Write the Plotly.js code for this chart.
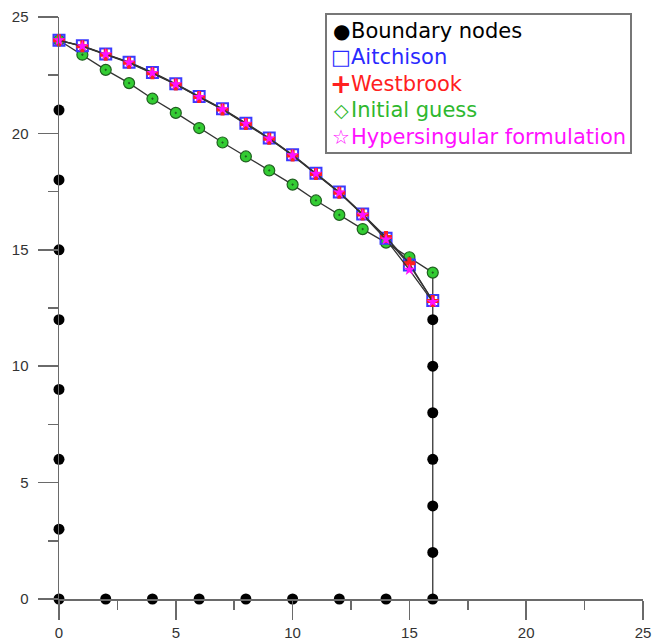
<!DOCTYPE html>
<html>
<head>
<meta charset="utf-8">
<script src="https://cdn.plot.ly/plotly-3.0.1.min.js"></script>
<style>html,body{margin:0;padding:0;background:#fff;}</style>
</head>
<body>
<div id="chart" style="width:652px;height:643px;"></div>
<script>
// ---- data ----
const nodeX = [0, 1, 2, 3, 4, 5, 6, 7, 8, 9, 10, 11, 12, 13, 14, 15, 16];
const aitchison = [24.0, 23.76, 23.41, 23.06, 22.62, 22.13, 21.59, 21.06, 20.44, 19.8, 19.08, 18.29, 17.48, 16.54, 15.5, 14.35, 12.82];
const westbrook = [24.0, 23.74, 23.38, 23.03, 22.58, 22.1, 21.56, 21.03, 20.4, 19.77, 19.05, 18.26, 17.45, 16.52, 15.55, 14.42, 12.8];
const hypersingular = [24.0, 23.75, 23.4, 23.05, 22.6, 22.11, 21.57, 21.04, 20.42, 19.78, 19.06, 18.27, 17.46, 16.5, 15.44, 14.14, 12.76];
const initialGuess = [24.0, 23.38, 22.73, 22.16, 21.49, 20.88, 20.23, 19.61, 19.01, 18.41, 17.8, 17.12, 16.5, 15.89, 15.31, 14.68, 14.02];
const boundaryX = [0, 0, 0, 0, 0, 0, 0, 0, 2, 4, 6, 8, 10, 12, 14, 16, 16, 16, 16, 16, 16, 16];
const boundaryY = [21, 18, 15, 12, 9, 6, 3, 0, 0, 0, 0, 0, 0, 0, 0, 0, 2, 4, 6, 8, 10, 12];
const legendLabels = ["Boundary nodes", "Aitchison", "Westbrook", "Initial guess", "Hypersingular formulation"];
const legendGlyphs = ["\u25CF", "\u25A1", "<b>+</b>", "\u25C7", "\u2606"];
const tickVals = [0, 5, 10, 15, 20, 25];

// ---- styling ----
const W = 652, H = 643;
const M = {l: 59, r: 9, t: 17, b: 44};
const PW = W - M.l - M.r, PH = H - M.t - M.b;
const px = v => (v - M.l) / PW;
const py = v => (H - M.b - v) / PH;
const legendColors = ["#000000", "#2a2aff", "#ff2020", "#2eb82e", "#ff10ff"];
const lineCol = "#333333";

const lastX = nodeX[nodeX.length - 1];
const rightEdgeTop = Math.max(initialGuess[initialGuess.length - 1], aitchison[aitchison.length - 1]);

const traces = [
  {x: [lastX, lastX], y: [0, rightEdgeTop], mode: "lines", line: {color: lineCol, width: 1.3},
   hoverinfo: "skip", showlegend: false, cliponaxis: false},
  {x: nodeX, y: initialGuess, name: "Initial guess", mode: "lines+markers", cliponaxis: false,
   line: {color: lineCol, width: 1.3},
   marker: {symbol: "circle-dot", size: 11, color: "#33cc33", line: {color: "#1f5f1f", width: 1.2}}},
  {x: nodeX, y: aitchison, name: "Aitchison", mode: "lines+markers", cliponaxis: false,
   line: {color: lineCol, width: 1.3},
   marker: {symbol: "square-open", size: 11, color: "#3a3aff", line: {width: 2}}},
  {x: nodeX, y: westbrook, name: "Westbrook", mode: "lines+markers", cliponaxis: false,
   line: {color: lineCol, width: 1.3},
   marker: {symbol: "cross", size: 10, color: "#ff2020", line: {width: 0}}},
  {x: nodeX, y: hypersingular, name: "Hypersingular formulation", mode: "lines+markers", cliponaxis: false,
   line: {color: lineCol, width: 1.3},
   marker: {symbol: "star", size: 9, color: "#ff10ff", line: {width: 0}}},
  {x: boundaryX, y: boundaryY, name: "Boundary nodes", mode: "markers", cliponaxis: false,
   marker: {symbol: "circle", size: 11, color: "#000000"}}
];

const tickFont = {family: "Liberation Sans, Arial, sans-serif", size: 15, color: "#333333"};
const axisCommon = {
  range: [0, 25], tickvals: tickVals, ticktext: tickVals.map(String),
  showgrid: false, zeroline: false, showline: true, linecolor: "#6a6a6a", linewidth: 1.5,
  ticks: "outside", tickcolor: "#6a6a6a", tickwidth: 1.5, tickfont: tickFont, fixedrange: true
};

const annotations = [];
const rowY = [30.5, 57, 83.5, 110, 136.5];
const glyphSizes = [20, 21, 26, 19, 20];
for (let i = 0; i < legendLabels.length; i++) {
  annotations.push({
    xref: "paper", yref: "paper", x: px(341), y: py(rowY[i]), xanchor: "center", yanchor: "middle",
    text: legendGlyphs[i], showarrow: false,
    font: {family: "DejaVu Sans, sans-serif", size: glyphSizes[i], color: legendColors[i]}
  });
  annotations.push({
    xref: "paper", yref: "paper", x: px(349), y: py(rowY[i]), xanchor: "left", yanchor: "middle",
    text: legendLabels[i], showarrow: false,
    font: {family: "DejaVu Sans, sans-serif", size: 21, color: legendColors[i]}
  });
}

const layout = {
  width: W, height: H, margin: M, paper_bgcolor: "#ffffff", plot_bgcolor: "#ffffff",
  showlegend: false,
  xaxis: Object.assign({}, axisCommon, {ticklen: 19, ticklabelstandoff: 0,
    minor: {dtick: 2.5, tick0: 0, ticks: "outside", ticklen: 9, tickcolor: "#6a6a6a", tickwidth: 1.5}}),
  yaxis: Object.assign({}, axisCommon, {ticklen: 20, ticklabelstandoff: 6,
    minor: {dtick: 2.5, tick0: 0, ticks: "outside", ticklen: 10, tickcolor: "#6a6a6a", tickwidth: 1.5}}),
  shapes: [{type: "rect", xref: "paper", yref: "paper", x0: px(326), x1: px(631), y0: py(153), y1: py(14),
    line: {color: "#777777", width: 2}, fillcolor: "#ffffff", layer: "above"}],
  annotations: annotations
};

Plotly.newPlot("chart", traces, layout, {staticPlot: true, displayModeBar: false});
</script>
</body>
</html>
